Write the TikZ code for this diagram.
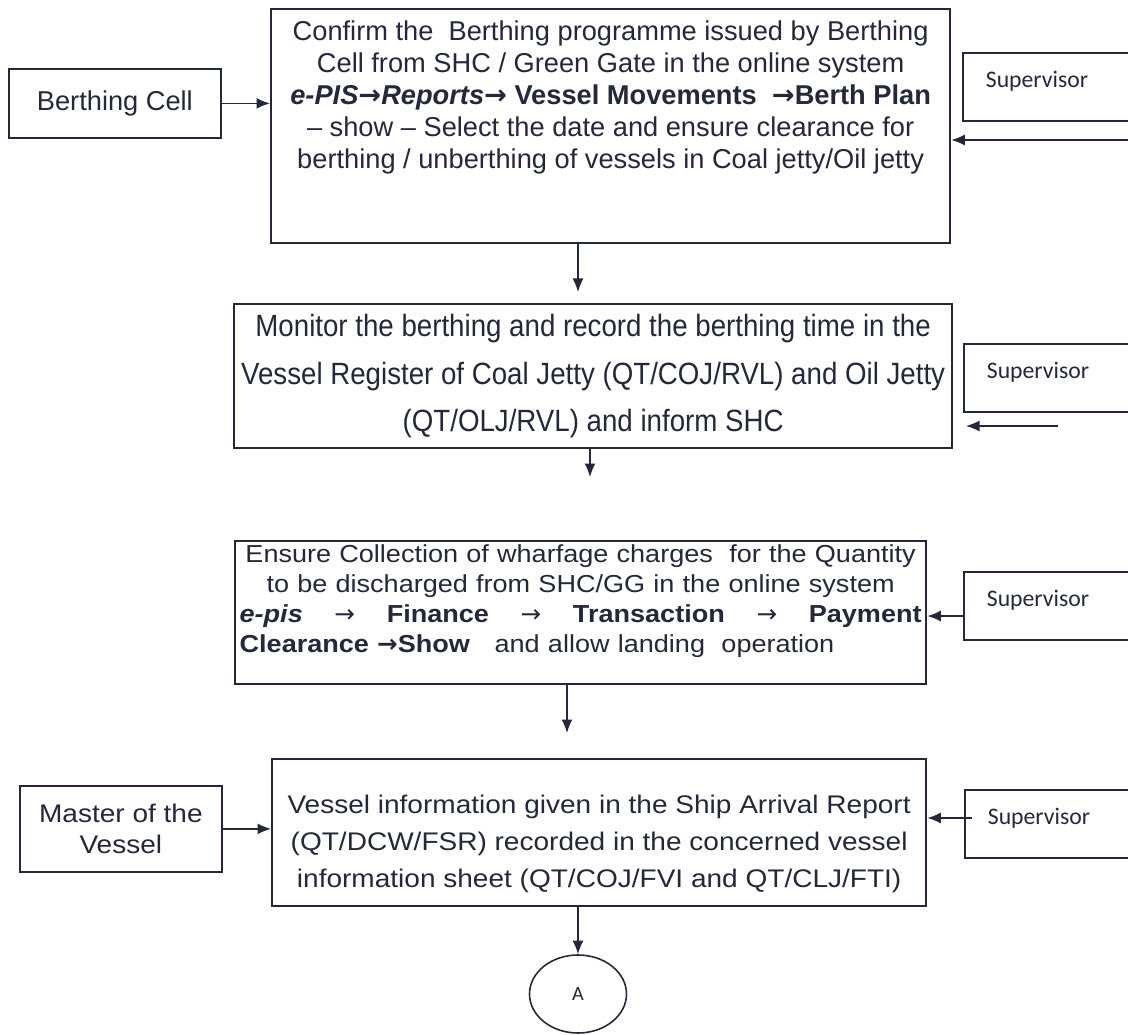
\documentclass[tikz,border=0pt]{standalone}
\usepackage{fontspec}
\setmainfont{Liberation Sans}
\newfontfamily\narrowfont[FakeStretch=0.9]{Liberation Sans}
\newfontfamily\widefont[FakeStretch=1.1]{Liberation Sans}
\newfontfamily\calfont{Carlito}
\newfontfamily\arrowfont{DejaVu Sans}
\newcommand{\ar}{{\arrowfont →}}
\usetikzlibrary{shapes.geometric,arrows.meta}
\definecolor{ink}{HTML}{23283A}

\begin{document}
\begin{tikzpicture}[>={Latex[length=2.7mm,width=2.2mm]}, ink, text=ink,
        box/.style={draw, line width=1.3pt, inner xsep=0.1cm, anchor=north west, align=center},
        sup/.style={draw, line width=1pt, anchor=north west, align=left, inner ysep=0pt,
          inner xsep=0.46cm, text width=2.68cm, text height=0.7cm, text depth=0.66cm,
          font=\calfont\fontsize{13.5}{16}\selectfont},
        flow/.style={->, line width=0.85pt}]
        \useasboundingbox (0,0) rectangle (22.56,-20.7);

        \node[box, line width=1pt, minimum width=4.24cm, minimum height=1.38cm,
          font=\fontsize{15.5}{18}\selectfont] (cell) at (0.16,-1.36) {Berthing Cell};
        \node[box, minimum width=13.58cm, inner ysep=0.1cm, text height=3.08cm, text depth=1.4cm,
          font=\fontsize{15.5}{18.2}\selectfont] (confirm) at (5.4,-0.16)
          {Confirm the\ \ Berthing programme issued by Berthing\\
           Cell from SHC / Green Gate in the online system\\
           \textbf{\textit{e-PIS\ar Reports\ar}} \textbf{Vessel Movements\ \ \ar Berth Plan}\\
           – show – Select the date and ensure clearance for\\
           berthing / unberthing of vessels in Coal jetty/Oil jetty};
        \node[sup] (sup1) at (19.24,-1.04) {Supervisor};

        \draw[flow] (cell) -- (confirm.west |- cell);
        \coordinate (s1) at (22.56,-2.8);
        \draw[flow] (s1) -- (confirm.east |- s1);

        \node[box, minimum width=14.36cm, minimum height=2.88cm,
          font=\narrowfont\fontsize{17.5}{27}\selectfont] (monitor) at (4.66,-6.06)
          {Monitor the berthing and record the berthing time in the\\
           Vessel Register of Coal Jetty (QT/COJ/RVL) and Oil Jetty\\
           (QT/OLJ/RVL) and inform SHC};
        \node[sup] (sup2) at (19.26,-6.86) {Supervisor};

        \coordinate (c1) at (11.56,-5.84);
        \draw[flow] (confirm.south -| c1) -- (c1);
        \coordinate (s2) at (21.16,-8.52);
        \coordinate (s2tip) at (19.32,-8.52);
        \draw[flow] (s2) -- (s2tip);

        \node[box, text width=13.64cm, inner xsep=0.09cm, inner ysep=0.08cm, text depth=2.34cm,
          font=\widefont\fontsize{14}{17}\selectfont] (collect) at (4.68,-10.8)
          {Ensure Collection of wharfage charges\ \ for the Quantity\\
           to be discharged from SHC/GG in the online system\\
           \makebox[13.64cm]{\textbf{\textit{e-pis}}\hfill\ar\hfill\textbf{Finance}\hfill\ar\hfill\textbf{Transaction}\hfill\ar\hfill\textbf{Payment}}\\
           \makebox[13.64cm][l]{\textbf{Clearance \ar Show}\ \ \ and allow landing\ \ operation}};
        \node[sup] (sup3) at (19.26,-11.42) {Supervisor};

        \coordinate (c2) at (11.8,-9.54);
        \draw[flow] (monitor.south -| c2) -- (c2);
        \draw[flow] (sup3.west |- 0,-12.32) -- (collect.east |- 0,-12.32);

        \node[box, minimum width=13.08cm, inner ysep=0.1cm, text height=2.46cm, text depth=0.28cm,
          font=\widefont\fontsize{14.5}{21}\selectfont] (record) at (5.42,-15.16)
          {Vessel information given in the Ship Arrival Report\\
           (QT/DCW/FSR) recorded in the concerned vessel\\
           information sheet (QT/COJ/FVI and QT/CLJ/FTI)};
        \node[box, line width=1pt, minimum width=4.04cm, minimum height=1.72cm,
          font=\widefont\fontsize{14.5}{18}\selectfont] (master) at (0.38,-15.7)
          {Master of the\\ Vessel};
        \node[sup] (sup4) at (19.28,-15.78) {Supervisor};
        \node[draw, ellipse, line width=0.9pt, minimum width=1.94cm, minimum height=1.56cm,
          font=\calfont\fontsize{11.5}{13}\selectfont] (A) at (11.56,-19.88) {A};

        \coordinate (c3) at (11.34,-14.66);
        \draw[flow] (collect.south -| c3) -- (c3);
        \draw[flow] (master) -- (record.west |- master);
        \draw[flow] ([xshift=0.16cm]sup4.west |- 0,-16.36) -- (record.east |- 0,-16.36);
        \draw[flow] (record.south -| A) -- (A);

      \end{tikzpicture}
\end{document}
